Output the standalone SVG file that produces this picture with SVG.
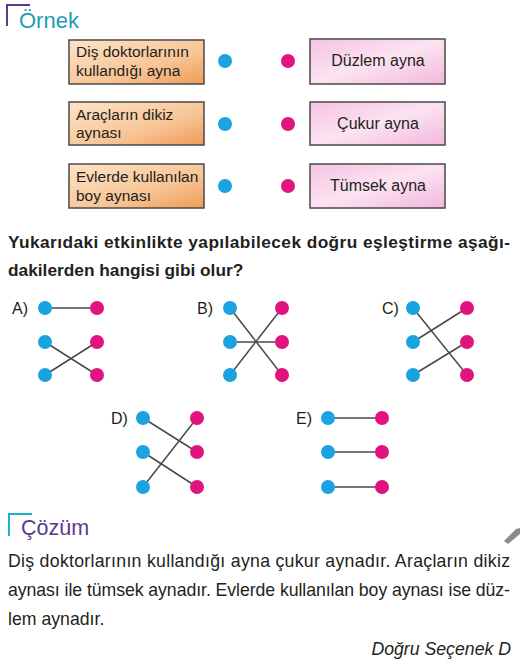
<svg xmlns="http://www.w3.org/2000/svg" width="520" height="666" viewBox="0 0 520 666">
<defs>
<linearGradient id="gl" x1="0" y1="0" x2="1" y2="1">
<stop offset="0" stop-color="#fde3c8"/><stop offset="0.6" stop-color="#f8c596"/><stop offset="1" stop-color="#ee9c58"/>
</linearGradient>
<linearGradient id="gr" x1="0" y1="0" x2="1" y2="1">
<stop offset="0" stop-color="#f6c3e2"/><stop offset="0.5" stop-color="#fbe3f1"/><stop offset="1" stop-color="#f3b7dc"/>
</linearGradient>
<style>
text{font-family:"Liberation Sans",Arial,sans-serif;fill:#231f20}
.bl{fill:url(#gl);stroke:#4a4a4a;stroke-width:1.5}
.br{fill:url(#gr);stroke:#4a4a4a;stroke-width:1.5}
.t{font-size:15.5px}
.tr{font-size:16px}
.b{fill:#1aa3e0}
.p{fill:#e0137f}
.ln{stroke:#4a4a4a;stroke-width:1.5;fill:none}
.q{font-size:17.3px;font-weight:bold}
.o{font-size:16px}
.s{font-size:17.7px}
</style>
</defs>
<g id="ornek-title">
<path d="M7 26 V5 H30" fill="none" stroke="#5b3a8c" stroke-width="2"/>
<text x="19" y="28" style="font-size:22px;fill:#1f9bb5">Örnek</text>
</g>
<g id="box-l1"><rect class="bl" x="69" y="40" width="135" height="44"/><text class="t" x="76" y="57">Diş doktorlarının</text><text class="t" x="76" y="76">kullandığı ayna</text></g>
<g id="box-l2"><rect class="bl" x="69" y="102" width="135" height="43"/><text class="t" x="76" y="120">Araçların dikiz</text><text class="t" x="76" y="138">aynası</text></g>
<g id="box-l3"><rect class="bl" x="69" y="164" width="135" height="44"/><text class="t" x="76" y="182">Evlerde kullanılan</text><text class="t" x="76" y="201">boy aynası</text></g>
<g id="box-r1"><rect class="br" x="310" y="39" width="135" height="45"/><text class="tr" x="378" y="66" text-anchor="middle">Düzlem ayna</text></g>
<g id="box-r2"><rect class="br" x="310" y="102" width="135" height="43"/><text class="tr" x="378" y="129" text-anchor="middle">Çukur ayna</text></g>
<g id="box-r3"><rect class="br" x="310" y="164" width="135" height="44"/><text class="tr" x="378" y="191" text-anchor="middle">Tümsek ayna</text></g>
<g id="dots-top">
<circle class="b" cx="225" cy="61" r="7"/><circle class="b" cx="225" cy="124" r="7"/><circle class="b" cx="225" cy="186" r="7"/>
<circle class="p" cx="288" cy="61" r="7"/><circle class="p" cx="288" cy="124" r="7"/><circle class="p" cx="288" cy="186" r="7"/>
</g>
<g id="question">
<text class="q" x="8" y="248" textLength="502" lengthAdjust="spacing">Yukarıdaki etkinlikte yapılabilecek doğru eşleştirme aşağı-</text>
<text class="q" x="8" y="276">dakilerden hangisi gibi olur?</text>
</g>
<g id="connectors">
<path class="ln" d="M45 308 H97 M45 342 L97 375 M45 375 L97 342"/>
<path class="ln" d="M230 308 L282 375 M230 342 H282 M230 375 L282 308"/>
<path class="ln" d="M413 308 L467 375 M413 342 L467 308 M413 375 L467 342"/>
<path class="ln" d="M143 418 L197 452 M143 452 L197 487 M143 487 L197 418"/>
<path class="ln" d="M328 418 H382 M328 452 H382 M328 487 H382"/>
</g>
<g id="option-a"><text class="o" x="12" y="314">A)</text>
<circle class="b" cx="45" cy="308" r="7"/><circle class="b" cx="45" cy="342" r="7"/><circle class="b" cx="45" cy="375" r="7"/>
<circle class="p" cx="97" cy="308" r="7"/><circle class="p" cx="97" cy="342" r="7"/><circle class="p" cx="97" cy="375" r="7"/></g>
<g id="option-b"><text class="o" x="197" y="314">B)</text>
<circle class="b" cx="230" cy="308" r="7"/><circle class="b" cx="230" cy="342" r="7"/><circle class="b" cx="230" cy="375" r="7"/>
<circle class="p" cx="282" cy="308" r="7"/><circle class="p" cx="282" cy="342" r="7"/><circle class="p" cx="282" cy="375" r="7"/></g>
<g id="option-c"><text class="o" x="382" y="314">C)</text>
<circle class="b" cx="413" cy="308" r="7"/><circle class="b" cx="413" cy="342" r="7"/><circle class="b" cx="413" cy="375" r="7"/>
<circle class="p" cx="467" cy="308" r="7"/><circle class="p" cx="467" cy="342" r="7"/><circle class="p" cx="467" cy="375" r="7"/></g>
<g id="option-d"><text class="o" x="111" y="424">D)</text>
<circle class="b" cx="143" cy="418" r="7"/><circle class="b" cx="143" cy="452" r="7"/><circle class="b" cx="143" cy="487" r="7"/>
<circle class="p" cx="197" cy="418" r="7"/><circle class="p" cx="197" cy="452" r="7"/><circle class="p" cx="197" cy="487" r="7"/></g>
<g id="option-e"><text class="o" x="296" y="424">E)</text>
<circle class="b" cx="328" cy="418" r="7"/><circle class="b" cx="328" cy="452" r="7"/><circle class="b" cx="328" cy="487" r="7"/>
<circle class="p" cx="382" cy="418" r="7"/><circle class="p" cx="382" cy="452" r="7"/><circle class="p" cx="382" cy="487" r="7"/></g>
<g id="cozum-title">
<path d="M9 536 V514 H32" fill="none" stroke="#1fb0d0" stroke-width="2"/>
<text x="21" y="535" style="font-size:21.5px;fill:#5b3a8c">Çözüm</text>
</g>
<path d="M504 541 L516 529 L520 528 L520 534 L508 544 Z" fill="#8a8a8a"/>
<g id="solution">
<text class="s" x="8" y="567" textLength="502" lengthAdjust="spacing">Diş doktorlarının kullandığı ayna çukur aynadır. Araçların dikiz</text>
<text class="s" x="8" y="596" textLength="502" lengthAdjust="spacing">aynası ile tümsek aynadır. Evlerde kullanılan boy aynası ise düz-</text>
<text class="s" x="8" y="625">lem aynadır.</text>
<text class="s" x="511" y="655" text-anchor="end" font-style="italic">Doğru Seçenek D</text>
</g>
</svg>
